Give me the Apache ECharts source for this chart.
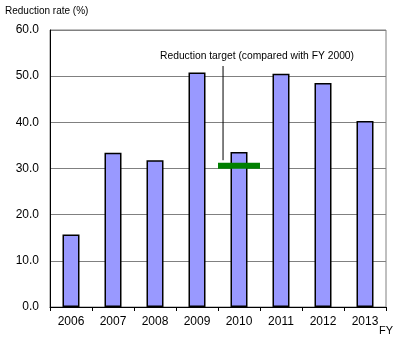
<!DOCTYPE html>
<html><head><meta charset="utf-8">
<script src="https://cdn.jsdelivr.net/npm/echarts@6/dist/echarts.min.js"></script>
<style>html,body{margin:0;padding:0;background:#fff}#c{width:400px;height:342px}</style>
</head><body><div id="c"></div>
<script>
const categories = ['2006','2007','2008','2009','2010','2011','2012','2013'];
const reductionRate = [15.7, 33.4, 31.8, 50.8, 33.6, 50.5, 48.5, 40.3];
const targetYear = '2010';
const targetValue = 30.6;
const leaderX = 4.12;           // position along the category span (0..8)
const leaderY = [31.8, 52.2];
const yTicks = [0, 10, 20, 30, 40, 50, 60];
const annotation = 'Reduction target (compared with FY 2000)';
const yTitle = 'Reduction rate (%)';
const xTitle = 'FY';

const FONT = 'Liberation Sans, Arial, sans-serif';
const chart = echarts.init(document.getElementById('c'));
chart.setOption({
  animation: false,
  grid: {left: 50, right: 14, top: 30, bottom: 35, show: true, borderColor: '#808080', borderWidth: 1},
  xAxis: [{
    type: 'category', data: categories,
    axisLine: {lineStyle: {color: '#000', width: 1}},
    axisTick: {show: true, length: 4, lineStyle: {color: '#000'}},
    axisLabel: {color: '#000', fontSize: 12, fontFamily: FONT, margin: 9}
  }, {
    type: 'value', min: 0, max: categories.length, show: false
  }],
  yAxis: {
    type: 'value', min: yTicks[0], max: yTicks[yTicks.length-1], interval: 10,
    axisLine: {show: true, lineStyle: {color: '#000', width: 1}},
    axisTick: {show: false},
    splitLine: {lineStyle: {color: '#808080', width: 1}},
    axisLabel: {color: '#000', fontSize: 12, fontFamily: FONT, margin: 11,
      formatter: v => v.toFixed(1)}
  },
  series: [{
    type: 'bar', data: reductionRate, barWidth: 17,
    itemStyle: {color: '#9999FF', borderColor: '#000', borderWidth: 1.5},
    z: 2
  }, {
    type: 'scatter', data: [[targetYear, targetValue]],
    symbol: 'rect', symbolSize: [42, 6],
    itemStyle: {color: '#008000', opacity: 1}, z: 4
  }, {
    type: 'line', xAxisIndex: 1,
    data: [[leaderX, leaderY[0]], [leaderX, leaderY[1]]],
    symbol: 'none', lineStyle: {color: '#000', width: 1}, z: 3
  }],
  graphic: [
    {type: 'text', left: 5, top: 6, style: {text: yTitle, fill: '#000', font: '10px ' + FONT}},
    {type: 'text', left: 160, top: 51, style: {text: annotation, fill: '#000', font: '10.3px ' + FONT}},
    {type: 'text', left: 379, top: 325, style: {text: xTitle, fill: '#000', font: '11px ' + FONT}}
  ]
});
</script></body></html>
